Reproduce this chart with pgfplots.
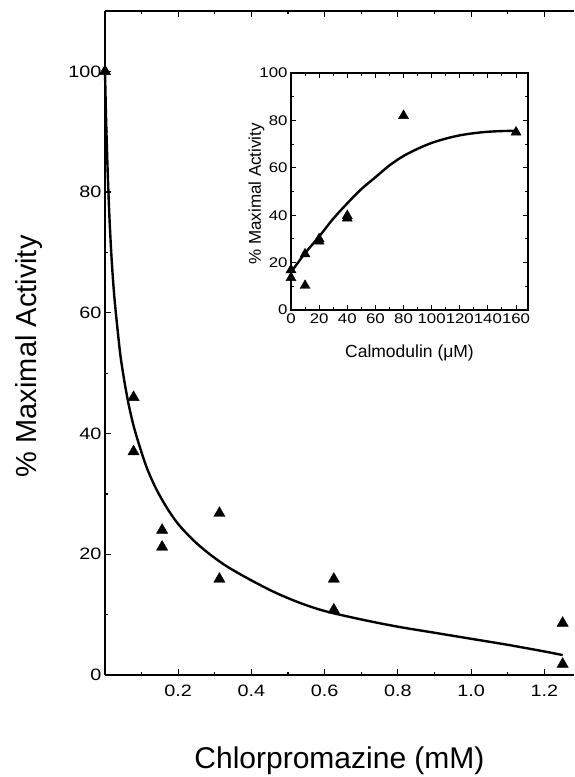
\documentclass[border=0pt]{standalone}
\usepackage{fontspec}
\setmainfont{Liberation Sans}
\newfontfamily\tickfont[FakeStretch=1.2]{Liberation Sans}
\usepackage{pgfplots}
\pgfplotsset{compat=1.18}

\begin{document}
\begin{tikzpicture}
\useasboundingbox (0,0) rectangle (574pt,777pt);

% main panel: chlorpromazine
\begin{axis}[
  at={(105pt,102pt)}, anchor=south west,
  width=469pt, height=664pt, scale only axis,
  xmin=0, xmax=1.281, ymin=0, ymax=110,
  axis x line*=box, axis y line*=left,
  axis line style={line width=1.5pt},
  clip=false,
  tick align=inside,
  major tick length=6pt, minor tick length=3pt,
  every tick/.style={line width=1.2pt, black},
  xtick={0.2,0.4,0.6,0.8,1.0,1.2},
  minor xtick={0.1,0.3,0.5,0.7,0.9,1.1},
  ytick={0,20,40,60,80,100},
  minor ytick={10,30,50,70,90},
  /pgf/number format/assume math mode=true,
  tick label style={font=\tickfont\fontsize{16.5}{16.5}\selectfont},
  xticklabel style={yshift=-6pt, /pgf/number format/.cd, fixed, fixed zerofill, precision=1},
  xlabel={Chlorpromazine (mM)},
  xlabel style={font=\fontsize{30}{30}\selectfont, at={(axis description cs:0.5,0)}, anchor=base, yshift=-93pt},
  ylabel={\% Maximal Activity},
  ylabel style={font=\fontsize{29}{29}\selectfont, at={(axis description cs:-0.145,0.48)}, anchor=base},
]
\addplot[only marks, mark=triangle*, mark size=6.5pt, black] coordinates {
  (0,100)
  (0.078,46) (0.078,37)
  (0.156,24) (0.156,21.2)
  (0.3125,26.8) (0.3125,15.9)
  (0.625,15.9) (0.625,10.8)
  (1.25,8.6) (1.25,1.8)
};
\addplot[black, line width=2.4pt, smooth] coordinates {
  (0,100) (0.003,92) (0.007,84) (0.012,76) (0.018,69) (0.025,63)
  (0.033,58) (0.042,53) (0.052,49) (0.064,45) (0.078,41.3) (0.095,37.8)
  (0.115,34.2) (0.14,30.8) (0.17,27.6) (0.2,25.0) (0.24,22.4) (0.28,20.3)
  (0.33,18.1) (0.39,16.0) (0.46,13.8) (0.53,12.0) (0.6,10.6) (0.7,9.2)
  (0.8,8.0) (0.9,7.0) (1.0,6.0) (1.1,5.0) (1.2,3.9) (1.25,3.3)
};
\end{axis}

% inset: calmodulin
\begin{axis}[
  at={(291pt,467pt)}, anchor=south west,
  width=237pt, height=237pt, scale only axis,
  xmin=0, xmax=168.5, ymin=0, ymax=100,
  axis line style={line width=1.3pt},
  clip=false,
  tick align=inside,
  major tick length=5pt, minor tick length=3pt,
  every tick/.style={line width=1pt, black},
  xtick={0,20,...,160}, minor x tick num=1,
  ytick={0,20,...,100}, minor y tick num=1,
  /pgf/number format/assume math mode=true,
  tick label style={font=\tickfont\fontsize{14}{14}\selectfont},
  xticklabel style={inner sep=1pt, yshift=-3pt},
  xlabel={Calmodulin (μM)},
  xlabel style={font=\fontsize{17.5}{17.5}\selectfont, at={(axis description cs:0.5,0)}, anchor=base, yshift=-48pt},
  ylabel={\% Maximal Activity},
  ylabel style={font=\fontsize{17}{17}\selectfont, at={(axis description cs:-0.127,0.49)}, anchor=base},
]
\addplot[only marks, mark=triangle*, mark size=5.8pt, black] coordinates {
  (0,13.6) (0,16.9)
  (10,23.6) (10,10.3)
  (20,29) (20,30)
  (40,38.7) (40,39.8)
  (80,82)
  (160,75)
};
\addplot[black, line width=2.4pt, smooth] coordinates {
  (0,16) (5,20) (10,24) (20,31) (30,38.5) (40,45) (50,51) (60,56)
  (70,61) (80,65) (90,68) (100,70.5) (110,72.3) (120,73.7) (130,74.6)
  (140,75.2) (150,75.5) (160,75.6)
};
\end{axis}
\end{tikzpicture}
\end{document}
